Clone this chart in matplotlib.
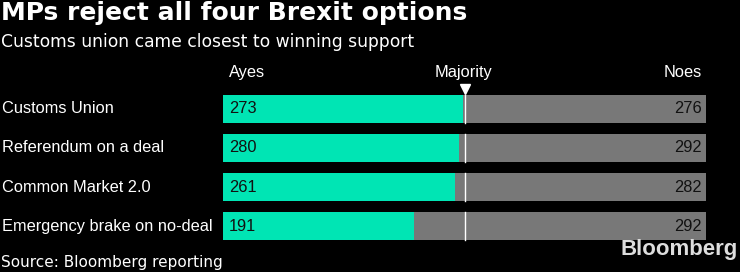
import matplotlib
matplotlib.use("Agg")
import matplotlib.pyplot as plt
from matplotlib.transforms import blended_transform_factory

# vote counts
options = ["Customs Union", "Referendum on a deal", "Common Market 2.0", "Emergency brake on no-deal"]
ayes = [273, 280, 261, 191]
noes = [276, 292, 282, 292]

AYE_COLOR = "#00e5b4"
NOE_COLOR = "#787878"
BG = "#000000"

W, H = 740, 272
fig = plt.figure(figsize=(W / 100, H / 100), dpi=100, facecolor=BG)


def px(x0, y0, x1, y1):
    # figure rect from pixel coords (top-left origin)
    return [x0 / W, 1 - y1 / H, (x1 - x0) / W, (y1 - y0) / H]


ax = fig.add_axes(px(223, 89, 706, 246))
ax.set_facecolor(BG)
ax.set_xlim(0, 1)
ax.set_ylim(len(options) - 0.5, -0.5)
ax.axis("off")

label_font = "Liberation Sans"
ys = list(range(len(options)))
shares = [a / (a + n) for a, n in zip(ayes, noes)]

ax.barh(ys, shares, height=0.71, color=AYE_COLOR, linewidth=0)
ax.barh(ys, [1 - s for s in shares], left=shares, height=0.71, color=NOE_COLOR, linewidth=0)

# majority line inside each bar
for y in ys:
    ax.plot([0.5, 0.5], [y - 0.355, y + 0.355], color="white", linewidth=1.0, zorder=3)
ax.plot([0.5], [-0.5], marker="v", color="white", markersize=7, clip_on=False, zorder=4)

for y, a, n in zip(ys, ayes, noes):
    ax.text(0.012, y, str(a), color="#111111", fontsize=11.8, family=label_font,
            va="center", ha="left")
    ax.text(0.992, y, str(n), color="#111111", fontsize=11.8, family=label_font,
            va="center", ha="right")

lab_tr = blended_transform_factory(fig.transFigure, ax.transData)
for y, name in zip(ys, options):
    ax.text(2 / W, y, name, transform=lab_tr, color="white", fontsize=11.8,
            family=label_font, va="center", ha="left")

# column headers
hy = 1 - 73 / H
fig.text(229 / W, hy, "Ayes", color="white", fontsize=11.8, family=label_font, va="center", ha="left")
fig.text(464 / W, hy, "Majority", color="white", fontsize=11.8, family=label_font, va="center", ha="center")
fig.text(702 / W, hy, "Noes", color="white", fontsize=11.8, family=label_font, va="center", ha="right")

# titles
fig.text(1 / W, 1 - 13 / H, "MPs reject all four Brexit options", color="white", fontsize=18,
         fontweight="bold", family="DejaVu Sans", va="center", ha="left")
fig.text(1 / W, 1 - 42 / H, "Customs union came closest to winning support", color="white",
         fontsize=12.3, family="DejaVu Sans", va="center", ha="left")
fig.text(1 / W, 1 - 263 / H, "Source: Bloomberg reporting", color="white", fontsize=11,
         family="DejaVu Sans", va="center", ha="left")
fig.text(738 / W, 1 - 249 / H, "Bloomberg", color="#dddddd", fontsize=16, fontweight="bold",
         family="Liberation Sans", va="center", ha="right")

fig.savefig("out.png", dpi=100, facecolor=BG)
